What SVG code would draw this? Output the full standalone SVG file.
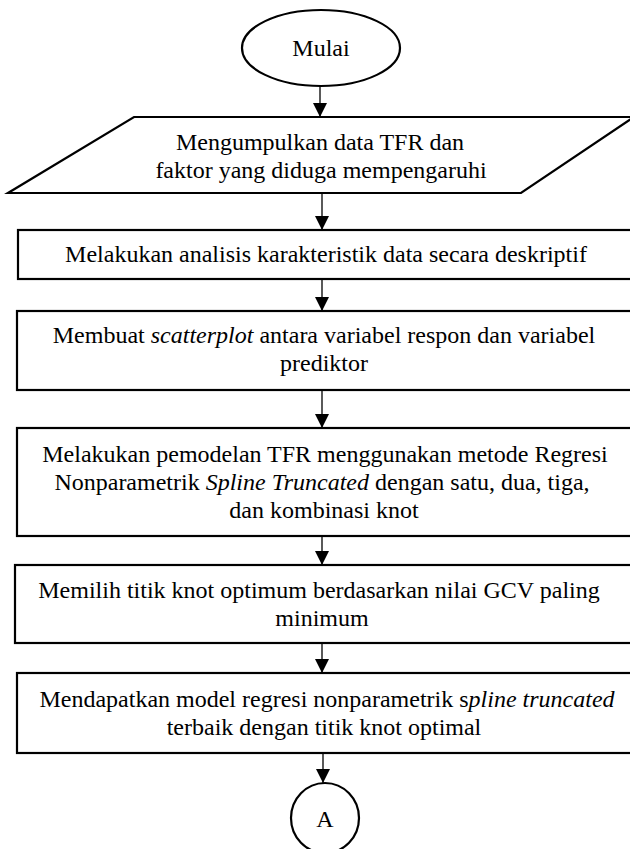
<svg xmlns="http://www.w3.org/2000/svg" width="630" height="849" viewBox="0 0 630 849">
<style>
.shape{fill:#fff;stroke:#000;stroke-width:2.2}
text{font-family:'Liberation Serif','Times New Roman',Times,serif;font-size:24px;fill:#000;text-anchor:middle}
.i{font-style:italic}
.c line{stroke:#000;stroke-width:1.3}
</style>
<defs>
<marker id="ah" markerWidth="14" markerHeight="14" refX="14" refY="7" orient="auto" markerUnits="userSpaceOnUse">
<path d="M0,0 L14,7 L0,14 Z" fill="#000"/>
</marker>
</defs>
<rect width="630" height="849" fill="#fff"/>
<g id="connectors" class="c">
<line x1="320" y1="86" x2="320" y2="117" marker-end="url(#ah)"/>
<line x1="322" y1="193" x2="322" y2="230" marker-end="url(#ah)"/>
<line x1="322" y1="279" x2="322" y2="311" marker-end="url(#ah)"/>
<line x1="322" y1="390" x2="322" y2="428" marker-end="url(#ah)"/>
<line x1="322" y1="536" x2="322" y2="565" marker-end="url(#ah)"/>
<line x1="322" y1="643" x2="322" y2="673" marker-end="url(#ah)"/>
<line x1="323" y1="753" x2="323" y2="783" marker-end="url(#ah)"/>
</g>
<g id="start">
<ellipse class="shape" cx="321" cy="48" rx="79" ry="38"/>
<text font-family="Liberation Serif, serif" x="321" y="56">Mulai</text>
</g>
<g id="input">
<polygon class="shape" points="134,117 634,117 521,193 8,193"/>
<text x="320" y="150">Mengumpulkan data TFR dan</text>
<text x="321" y="178">faktor yang diduga mempengaruhi</text>
</g>
<g id="step1">
<rect class="shape" x="18" y="230" width="616" height="49"/>
<text x="326" y="262">Melakukan analisis karakteristik data secara deskriptif</text>
</g>
<g id="step2">
<rect class="shape" x="17" y="311" width="617" height="79"/>
<text x="324" y="343">Membuat <tspan class="i">scatterplot</tspan> antara variabel respon dan variabel</text>
<text x="324" y="371">prediktor</text>
</g>
<g id="step3">
<rect class="shape" x="17" y="428" width="617" height="108"/>
<text x="325" y="462">Melakukan pemodelan TFR menggunakan metode Regresi</text>
<text x="322" y="490">Nonparametrik <tspan class="i">Spline Truncated</tspan> dengan satu, dua, tiga,</text>
<text x="324" y="518">dan kombinasi knot</text>
</g>
<g id="step4">
<rect class="shape" x="15" y="565" width="619" height="78"/>
<text x="319" y="598">Memilih titik knot optimum berdasarkan nilai GCV paling</text>
<text x="322" y="626">minimum</text>
</g>
<g id="step5">
<rect class="shape" x="17" y="673" width="617" height="80"/>
<text x="327" y="707">Mendapatkan model regresi nonparametrik s<tspan class="i">pline truncated</tspan></text>
<text x="324" y="735">terbaik dengan titik knot optimal</text>
</g>
<g id="connectorA">
<ellipse class="shape" cx="325" cy="818" rx="34" ry="35"/>
<text x="325" y="827">A</text>
</g>
</svg>
